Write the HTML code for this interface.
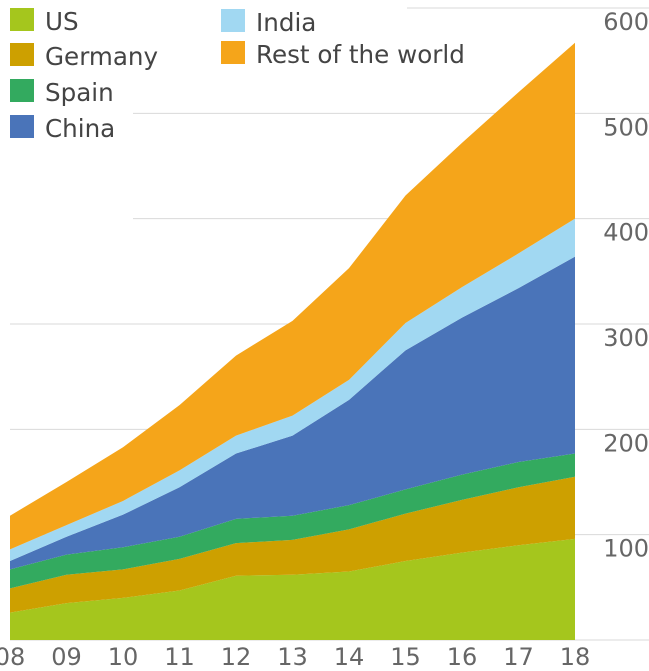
<!DOCTYPE html>
<html><head><meta charset="utf-8"><style>
html,body{margin:0;padding:0;background:#fff;}
svg{display:block;font-family:"DejaVu Sans","Liberation Sans",sans-serif;}
</style></head><body>
<svg id="chart" width="649" height="671" viewBox="0 0 649 671">
<g id="grid"></g>
<g id="areas"></g>
<g id="yaxis"></g>
<g id="xaxis"></g>
<g id="legend"></g>
</svg>
<script>
const years = ["08","09","10","11","12","13","14","15","16","17","18"];
const seriesNames = ["US","Germany","Spain","China","India","Rest of the world"];
const seriesColors = ["#a5c61d","#cda000","#33aa5f","#4a74b9","#a1d8f2","#f5a51a"];
const usVals = [26,35,40,47,61,62,65,75,83,90,96];
const germanyVals = [23,27,27,30,31,33,40,45,50,55,59];
const spainVals = [18,19,21,21,23,23,23,23,24,24,22];
const chinaVals = [8,17,31,47,62,76,100,132,149,165,187];
const indiaVals = [11,11,13,16,17,19,19,26,29,33,36];
const restVals = [32,41,51,62,76,90,106,121,137,153,167];
const yTicks = [100,200,300,400,500,600];
const allSeries = [usVals,germanyVals,spainVals,chinaVals,indiaVals,restVals];

const NS="http://www.w3.org/2000/svg";
const x0=10, xStep=56.5, yBase=640, yScale=632/600;
const xPos=i=>x0+i*xStep;
const yPos=v=>yBase-v*yScale;
function mk(tag,attrs,parent){const e=document.createElementNS(NS,tag);for(const k in attrs)e.setAttribute(k,attrs[k]);parent.appendChild(e);return e;}

const grid=document.getElementById('grid');
const gridStarts={600:407,500:133,400:133};
[0,...yTicks].forEach(t=>{
  const l=mk('line',{x1:gridStarts[t]||10,x2:649,y1:yPos(t),y2:yPos(t),stroke:'#d9d9d9','stroke-width':1},grid);
  
  
});

const areas=document.getElementById('areas');
let lower=years.map(()=>0);
allSeries.forEach((s,si)=>{
  const upper=lower.map((v,i)=>v+s[i]);
  let d='';
  upper.forEach((v,i)=>{d+=(i?'L':'M')+xPos(i)+' '+yPos(v)+' ';});
  for(let i=years.length-1;i>=0;i--)d+='L'+xPos(i)+' '+yPos(lower[i])+' ';
  const p=mk('path',{d:d+'Z',fill:seriesColors[si]},areas);
  
  
  lower=upper;
});

const yaxis=document.getElementById('yaxis');
yTicks.forEach(t=>{
  const tx=mk('text',{x:649,y:yPos(t)+22,'text-anchor':'end','font-size':24,fill:'#666'},yaxis);
  tx.textContent=t;
  
  
});
const xaxis=document.getElementById('xaxis');
years.forEach((y,i)=>{
  const tx=mk('text',{x:xPos(i),y:665,'text-anchor':'middle','font-size':24,fill:'#666'},xaxis);
  tx.textContent=y;
  
  
});

const legend=document.getElementById('legend');
const legPos=[[10,8],[10,43],[10,79],[10,115],[221,9],[221,41]];
seriesNames.forEach((n,i)=>{
  const [lx,ly]=legPos[i];
  const g=mk('g',{},legend);
  
  
  mk('rect',{x:lx,y:ly,width:24,height:23,fill:seriesColors[i]},g);
  const t=mk('text',{x:lx+35,y:ly+22,'font-size':24.6,fill:'#444'},g);
  t.textContent=n;
});
</script>
</body></html>
